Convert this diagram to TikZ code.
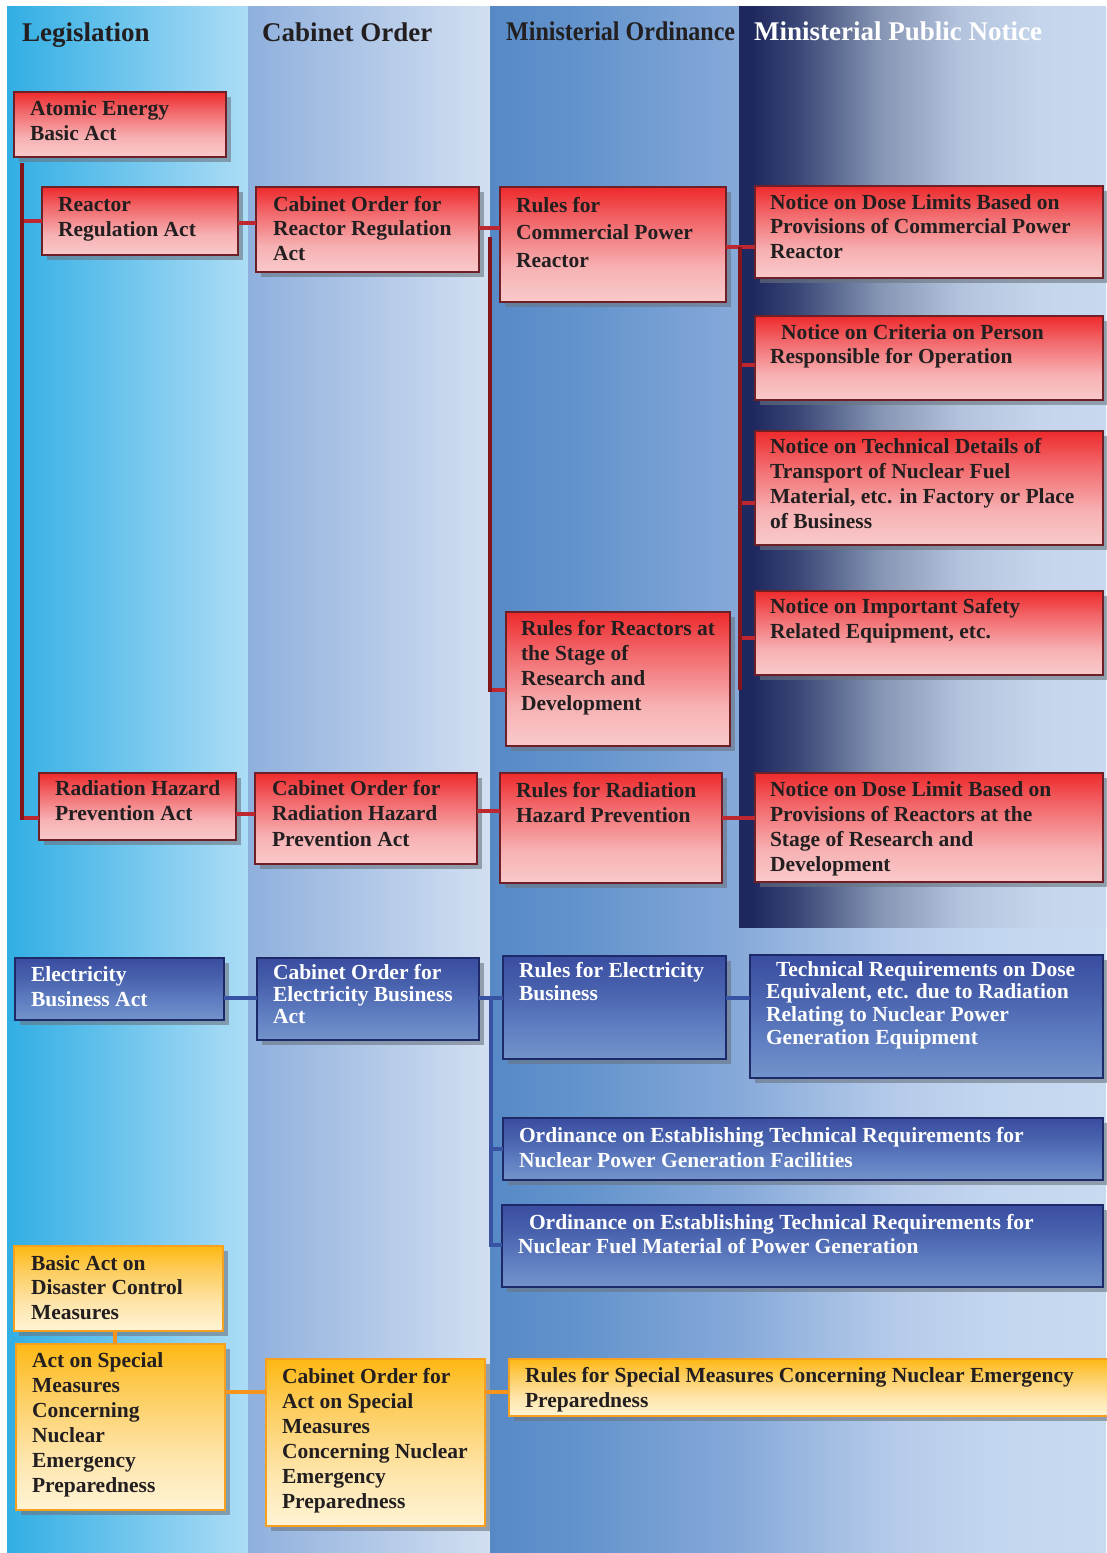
\documentclass[tikz,border=0pt]{standalone}
\usepackage{fontspec}
\setmainfont{Liberation Serif}
\usepackage{graphicx}
\usetikzlibrary{shadows}

\definecolor{txt}{HTML}{231F20}
\definecolor{shadowc}{HTML}{6A7480}
% red
\definecolor{rT}{HTML}{EE2A2C}
\definecolor{rM}{HTML}{F2686B}
\definecolor{rB2}{HTML}{F7B1B3}
\definecolor{rB}{HTML}{F9CACB}
\definecolor{rBorder}{HTML}{6E2026}
\definecolor{rLine}{HTML}{BE2630}
\definecolor{rTrunk}{HTML}{82161B}
% blue
\definecolor{bT}{HTML}{3A4DA1}
\definecolor{bM}{HTML}{4760AC}
\definecolor{bB2}{HTML}{5E7CC0}
\definecolor{bB}{HTML}{7393CB}
\definecolor{bBorder}{HTML}{1E2A68}
\definecolor{bLine}{HTML}{3853A4}
% orange
\definecolor{oT}{HTML}{FDB813}
\definecolor{oM}{HTML}{FDCB56}
\definecolor{oB2}{HTML}{FEE4A8}
\definecolor{oB}{HTML}{FFF4D6}
\definecolor{oBorder}{HTML}{F5A01F}
\definecolor{oLine}{HTML}{F7941D}
% columns
\definecolor{cA}{HTML}{31AEE4}
\definecolor{cB}{HTML}{ADDDF6}
\definecolor{cC}{HTML}{8FB0DD}
\definecolor{cD}{HTML}{D2DFF1}
\definecolor{o0}{HTML}{5689C6}
\definecolor{o1}{HTML}{6796CE}
\definecolor{o2}{HTML}{86A9D9}
\definecolor{o3}{HTML}{A0BCE2}
\definecolor{o4}{HTML}{B6CBEA}
\definecolor{o5}{HTML}{C3D6EF}
\definecolor{o6}{HTML}{C8DAF0}
\definecolor{p0}{HTML}{1F285E}
\definecolor{p1}{HTML}{20295F}
\definecolor{p2}{HTML}{3A4676}
\definecolor{p3}{HTML}{8494B2}
\definecolor{p4}{HTML}{B3C3DD}
\definecolor{p5}{HTML}{C5D5EB}
\definecolor{p6}{HTML}{C8D9EF}

\pgfdeclareverticalshading{redfill}{100bp}{color(0bp)=(rB); color(25bp)=(rB); color(40bp)=(rB2); color(60bp)=(rM); color(75bp)=(rT); color(100bp)=(rT)}
\pgfdeclareverticalshading{bluefill}{100bp}{color(0bp)=(bB); color(25bp)=(bB); color(42bp)=(bB2); color(60bp)=(bM); color(75bp)=(bT); color(100bp)=(bT)}
\pgfdeclareverticalshading{orangefill}{100bp}{color(0bp)=(oB); color(25bp)=(oB); color(42bp)=(oB2); color(62bp)=(oM); color(75bp)=(oT); color(100bp)=(oT)}
\pgfdeclarehorizontalshading{ordshade}{100bp}{color(0bp)=(o0); color(25bp)=(o0); color(34bp)=(o1); color(45bp)=(o2); color(52bp)=(o3); color(58bp)=(o4); color(66bp)=(o5); color(75bp)=(o6); color(100bp)=(o6)}
\pgfdeclarehorizontalshading{panelshade}{100bp}{color(0bp)=(p0); color(25bp)=(p0); color(27bp)=(p1); color(33bp)=(p2); color(44bp)=(p3); color(55bp)=(p4); color(66bp)=(p5); color(75bp)=(p6); color(100bp)=(p6)}

\tikzset{
  boxbase/.style={draw, line width=2pt, outer sep=0pt, inner sep=0pt, shade,
    drop shadow={shadow xshift=5pt, shadow yshift=-5pt, fill=shadowc, opacity=0.6}},
  redbox/.style={boxbase, draw=rBorder, shading=redfill},
  bluebox/.style={boxbase, draw=bBorder, shading=bluefill},
  orangebox/.style={boxbase, draw=oBorder, shading=orangefill},
  dtxt/.style={text=txt, inner sep=0pt, outer sep=0pt, align=left},
  wtxt/.style={text=white, inner sep=0pt, outer sep=0pt, align=left},
  hdr/.style={text=txt, inner sep=0pt, font=\fontsize{27}{30}\selectfont\bfseries},
  rl/.style={draw=rLine, line width=3.5pt},
  rt/.style={draw=rTrunk, line width=4pt},
  bl/.style={draw=bLine, line width=3.5pt},
  ol/.style={draw=oLine, line width=3.5pt}
}

\newcommand\mkbox[6]{\node[#2, minimum width=#5-#3, minimum height=#6-#4, anchor=north west] (#1) at (#3,#4) {};}
\newcommand\mktext[6]{\node[#2, anchor=north west, font=\fontsize{21.5}{#5}\selectfont\bfseries] (#1) at (#3,{#4-16}) {\rule{0pt}{16pt}#6};}

\begin{document}
\begin{tikzpicture}[x=1pt,y=-1pt]
\useasboundingbox (0,0) rectangle (1106,1553);
\fill[white] (0,0) rectangle (1106,1553);
% columns
\shade[left color=cA, right color=cB] (7,6) rectangle (248,1553);
\shade[left color=cC, right color=cD] (248,6) rectangle (490,1553);
\shade[shading=ordshade] (490,6) rectangle (1106,1553);
\shade[shading=panelshade] (739,6) rectangle (1106,927);

% headers
\node[hdr, anchor=base west] (hLeg) at (22,41) {Legislation};
\node[hdr, anchor=base west] (hCab) at (262,41) {Cabinet Order};
\node[hdr, anchor=base west] (hOrd) at (506,40) {\scalebox{0.89}[1]{Ministerial Ordinance}};
\node[hdr, anchor=base west, text=white] (hNot) at (754,40) {Ministerial Public Notice};

% red boxes
\mkbox{aeba}{redbox}{14}{92}{226}{157}
\mkbox{rra}{redbox}{42}{187}{238}{255}
\mkbox{corr}{redbox}{256}{187}{479}{272}
\mkbox{rcpr}{redbox}{500}{187}{726}{302}
\mkbox{n1}{redbox}{755}{186}{1103}{278}
\mkbox{n2}{redbox}{755}{316}{1103}{400}
\mkbox{n3}{redbox}{755}{431}{1103}{545}
\mkbox{n4}{redbox}{755}{591}{1103}{675}
\mkbox{rrd}{redbox}{506}{612}{730}{746}
\mkbox{rhpa}{redbox}{39}{773}{236}{840}
\mkbox{corh}{redbox}{255}{773}{477}{864}
\mkbox{rrhp}{redbox}{500}{773}{722}{883}
\mkbox{n5}{redbox}{755}{773}{1103}{882}
% blue boxes
\mkbox{eba}{bluebox}{15}{958}{224}{1020}
\mkbox{coeb}{bluebox}{257}{958}{479}{1040}
\mkbox{reb}{bluebox}{503}{956}{726}{1059}
\mkbox{treq}{bluebox}{750}{955}{1103}{1078}
\mkbox{ord1}{bluebox}{503}{1118}{1103}{1180}
\mkbox{ord2}{bluebox}{502}{1205}{1103}{1287}
% orange boxes
\mkbox{bdcm}{orangebox}{14}{1246}{223}{1331}
\mkbox{asm}{orangebox}{16}{1344}{225}{1510}
\mkbox{coasm}{orangebox}{266}{1359}{485}{1526}
\mkbox{rsm}{orangebox}{509}{1359}{1112}{1416}

% texts
\mktext{aebaT}{dtxt}{30}{115}{25}{Atomic Energy\\Basic Act}
\mktext{rraT}{dtxt}{58}{211}{25}{Reactor\\Regulation Act}
\mktext{corrT}{dtxt}{273}{211}{24.5}{Cabinet Order for\\Reactor Regulation\\Act}
\mktext{rcprT}{dtxt}{516}{212}{27.5}{Rules for\\Commercial Power\\Reactor}
\mktext{n1T}{dtxt}{770}{209}{24.5}{Notice on Dose Limits Based on\\Provisions of Commercial Power\\Reactor}
\mktext{n2T}{dtxt}{770}{339}{24}{\hspace*{11pt}Notice on Criteria on Person\\Responsible for Operation}
\mktext{n3T}{dtxt}{770}{453}{25}{Notice on Technical Details of\\Transport of Nuclear Fuel\\Material, etc. in Factory or Place\\of Business}
\mktext{n4T}{dtxt}{770}{613}{25}{Notice on Important Safety\\Related Equipment, etc.}
\mktext{rrdT}{dtxt}{521}{635}{25.3}{Rules for Reactors at\\the Stage of\\Research and\\Development}
\mktext{rhpaT}{dtxt}{55}{795}{25.5}{Radiation Hazard\\Prevention Act}
\mktext{corhT}{dtxt}{272}{795}{25.5}{Cabinet Order for\\Radiation Hazard\\Prevention Act}
\mktext{rrhpT}{dtxt}{516}{797}{25}{Rules for Radiation\\Hazard Prevention}
\mktext{n5T}{dtxt}{770}{796}{25}{Notice on Dose Limit Based on\\Provisions of Reactors at the\\Stage of Research and\\Development}
\mktext{ebaT}{wtxt}{31}{981}{25}{Electricity\\Business Act}
\mktext{coebT}{wtxt}{273}{979}{22}{Cabinet Order for\\Electricity Business\\Act}
\mktext{rebT}{wtxt}{519}{977}{23}{Rules for Electricity\\Business}
\mktext{treqT}{wtxt}{766}{976}{22.7}{\hspace*{10pt}Technical Requirements on Dose\\Equivalent, etc. due to Radiation\\Relating to Nuclear Power\\Generation Equipment}
\mktext{ord1T}{wtxt}{519}{1142}{25}{Ordinance on Establishing Technical Requirements for\\Nuclear Power Generation Facilities}
\mktext{ord2T}{wtxt}{518}{1229}{24}{\hspace*{11pt}Ordinance on Establishing Technical Requirements for\\Nuclear Fuel Material of Power Generation}
\mktext{bdcmT}{dtxt}{31}{1270}{24.5}{Basic Act on\\Disaster Control\\Measures}
\mktext{asmT}{dtxt}{32}{1367}{25}{Act on Special\\Measures\\Concerning\\Nuclear\\Emergency\\Preparedness}
\mktext{coasmT}{dtxt}{282}{1383}{25}{Cabinet Order for\\Act on Special\\Measures\\Concerning Nuclear\\Emergency\\Preparedness}
\mktext{rsmT}{dtxt}{525}{1382}{25}{Rules for Special Measures Concerning Nuclear Emergency\\Preparedness}

% red connectors
\coordinate (t0) at (22,163);
\coordinate (yA) at (0,221);
\coordinate (yB) at (0,818);
\coordinate (t0e) at (22,820);
\draw[rl] (t0 |- yA) -- (rra.west |- yA);
\draw[rl] (t0 |- yB) -- (rhpa.west |- yB);
\draw[rt] (t0) -- (t0e);
\coordinate (yC) at (0,223);
\draw[rl] (rra.east |- yC) -- (corr.west |- yC);
\coordinate (yD) at (0,228);
\draw[rl] (corr.east |- yD) -- (rcpr.west |- yD);
\coordinate (t1) at (490,237);
\coordinate (yE) at (0,690);
\coordinate (t1e) at (490,692);
\draw[rl] (t1 |- yE) -- (rrd.west |- yE);
\draw[rt] (t1) -- (t1e);
\coordinate (yF) at (0,247);
\draw[rl] (rcpr.east |- yF) -- (n1.west |- yF);
\coordinate (t2) at (740,247);
\coordinate (t2e) at (740,690);
\coordinate (yG) at (0,365);
\draw[rl] (t2 |- yG) -- (n2.west |- yG);
\coordinate (yH) at (0,503);
\draw[rl] (t2 |- yH) -- (n3.west |- yH);
\coordinate (yI) at (0,638);
\draw[rl] (t2 |- yI) -- (n4.west |- yI);
\draw[rt] (t2) -- (t2e);
\coordinate (yJ) at (0,814);
\draw[rl] (rhpa.east |- yJ) -- (corh.west |- yJ);
\coordinate (yK) at (0,811);
\draw[rl] (corh.east |- yK) -- (rrhp.west |- yK);
\coordinate (yL) at (0,818);
\draw[rl] (rrhp.east |- yL) -- (n5.west |- yL);

% blue connectors
\coordinate (yM) at (0,998);
\draw[bl] (eba.east |- yM) -- (coeb.west |- yM);
\draw[bl] (coeb.east |- yM) -- (reb.west |- yM);
\draw[bl] (reb.east |- yM) -- (treq.west |- yM);
\coordinate (t3) at (491,998);
\coordinate (yN) at (0,1149);
\coordinate (yO) at (0,1245);
\draw[bl] (t3) |- (ord2.west |- yO);
\draw[bl] (t3 |- yN) -- (ord1.west |- yN);

% orange connectors
\coordinate (xP) at (115,0);
\draw[ol] (bdcm.south -| xP) -- (asm.north -| xP);
\coordinate (yQ) at (0,1392);
\draw[ol] (asm.east |- yQ) -- (coasm.west |- yQ);
\draw[ol] (coasm.east |- yQ) -- (rsm.west |- yQ);
\end{tikzpicture}
\end{document}
